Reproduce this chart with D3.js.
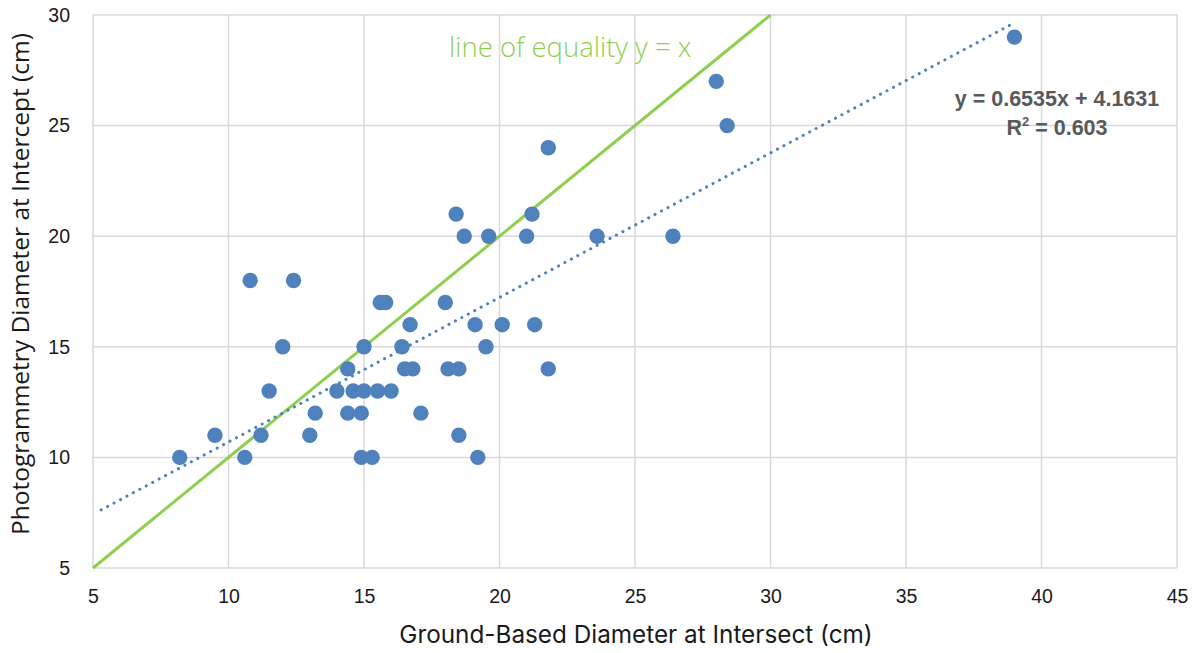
<!DOCTYPE html>
<html>
<head>
<meta charset="utf-8">
<script src="https://cdn.jsdelivr.net/npm/d3@7"></script>
<style>
  html, body { margin: 0; padding: 0; background: #ffffff; }
  svg { display: block; }
</style>
</head>
<body>
<svg id="chart" width="1198" height="653"></svg>
<script>
// Ground-based vs photogrammetry stem diameters (cm)
const groundDiameter = [8.2, 9.5, 10.6, 10.8, 11.2, 11.5, 12, 12.4, 13, 13.2, 14, 14.4, 14.4, 14.6, 14.9, 14.9, 15, 15, 15.3, 15.5, 15.6, 15.8, 16, 16.4, 16.5, 16.7, 16.8, 17.1, 18, 18.1, 18.4, 18.5, 18.5, 18.7, 19.1, 19.2, 19.5, 19.6, 20.1, 21, 21.2, 21.3, 21.8, 21.8, 23.6, 26.4, 28, 28.4, 39];
const photoDiameter  = [10, 11, 10, 18, 11, 13, 15, 18, 11, 12, 13, 14, 12, 13, 12, 10, 15, 13, 10, 13, 17, 17, 13, 15, 14, 16, 14, 12, 17, 14, 21, 14, 11, 20, 16, 10, 15, 20, 16, 20, 21, 16, 24, 14, 20, 20, 27, 25, 29];

const xTicks = [5, 10, 15, 20, 25, 30, 35, 40, 45];
const yTicks = [5, 10, 15, 20, 25, 30];

// Linear trend fitted in the source workbook
const trendSlope = 0.6535;
const trendIntercept = 4.1631;
const trendR2 = 0.603;
const trendRange = [5.3, 39];
const equalityRange = [5, 30];

const svg = d3.select("#chart");
const margin = { left: 93, right: 21, top: 15, bottom: 85 };
const W = 1198, H = 653;

const x = d3.scaleLinear().domain([5, 45]).range([margin.left, W - margin.right]);
const y = d3.scaleLinear().domain([5, 30]).range([H - margin.bottom, margin.top]);

const font = "'Liberation Sans', Arial, sans-serif";

// grid
const grid = svg.append("g").attr("stroke", "#d9d9d9").attr("stroke-width", 1.5);
grid.selectAll("line.v").data(xTicks).join("line")
  .attr("x1", d => x(d)).attr("x2", d => x(d))
  .attr("y1", y(5)).attr("y2", y(30));
grid.selectAll("line.h").data(yTicks).join("line")
  .attr("x1", x(5)).attr("x2", x(45))
  .attr("y1", d => y(d)).attr("y2", d => y(d));

// axes (labels only, no tick marks)
const xAxis = svg.append("g")
  .attr("transform", `translate(0,${y(5)})`)
  .call(d3.axisBottom(x).tickValues(xTicks).tickSize(0).tickPadding(21));
xAxis.select(".domain").remove();
xAxis.selectAll("text").attr("font-family", font).attr("font-size", 19.5).attr("fill", "#1a1a1a");

const yAxis = svg.append("g")
  .attr("transform", `translate(${x(5)},0)`)
  .call(d3.axisLeft(y).tickValues(yTicks).tickSize(0).tickPadding(23));
yAxis.select(".domain").remove();
yAxis.selectAll("text").attr("font-family", font).attr("font-size", 19.5).attr("fill", "#1a1a1a");

// line of equality
const line = d3.line().x(d => x(d)).y(d => y(d));
svg.append("path")
  .datum(equalityRange)
  .attr("d", line)
  .attr("fill", "none")
  .attr("stroke", "#8fcf4f")
  .attr("stroke-width", 3);

// points
svg.append("g").selectAll("circle")
  .data(groundDiameter.map((g, i) => [g, photoDiameter[i]]))
  .join("circle")
  .attr("cx", d => x(d[0]))
  .attr("cy", d => y(d[1]))
  .attr("r", 7.7)
  .attr("fill", "#4f81bd");

// dotted trend line
svg.append("path")
  .datum(trendRange)
  .attr("d", d3.line().x(d => x(d)).y(d => y(trendSlope * d + trendIntercept)))
  .attr("fill", "none")
  .attr("stroke", "#4f81bd")
  .attr("stroke-width", 3)
  .attr("stroke-linecap", "round")
  .attr("stroke-dasharray", "0.1 7.2");

// annotations
svg.append("text")
  .attr("x", 449).attr("y", 57)
  .attr("font-family", "'Open Sans', sans-serif")
  .attr("font-size", 27.5)
  .attr("font-weight", 300)
  .attr("fill", "#8fcf4f")
  .text("line of equality y = x");

const eq = svg.append("text")
  .attr("font-family", font)
  .attr("font-size", 21.5)
  .attr("font-weight", "bold")
  .attr("fill", "#595959")
  .attr("text-anchor", "middle");
eq.append("tspan").attr("x", 1057).attr("y", 106)
  .text(`y = ${trendSlope.toFixed(4)}x + ${trendIntercept.toFixed(4)}`);
const r2 = eq.append("tspan").attr("x", 1057).attr("y", 135);
r2.append("tspan").text("R");
r2.append("tspan").attr("font-size", 13).attr("dy", -9).text("2");
r2.append("tspan").attr("dy", 9).text(` = ${trendR2.toFixed(3)}`);

// axis titles
svg.append("text")
  .attr("x", 636).attr("y", 643)
  .attr("text-anchor", "middle")
  .attr("font-family", "Inter, sans-serif").attr("font-size", 24.3).attr("fill", "#1a1a1a")
  .text("Ground-Based Diameter at Intersect (cm)");

svg.append("text")
  .attr("transform", `translate(29,${284}) rotate(-90)`)
  .attr("text-anchor", "middle")
  .attr("font-family", "'Open Sans', sans-serif").attr("font-size", 24.5).attr("fill", "#1a1a1a")
  .text("Photogrammetry Diameter at Intercept (cm)");
</script>
</body>
</html>
